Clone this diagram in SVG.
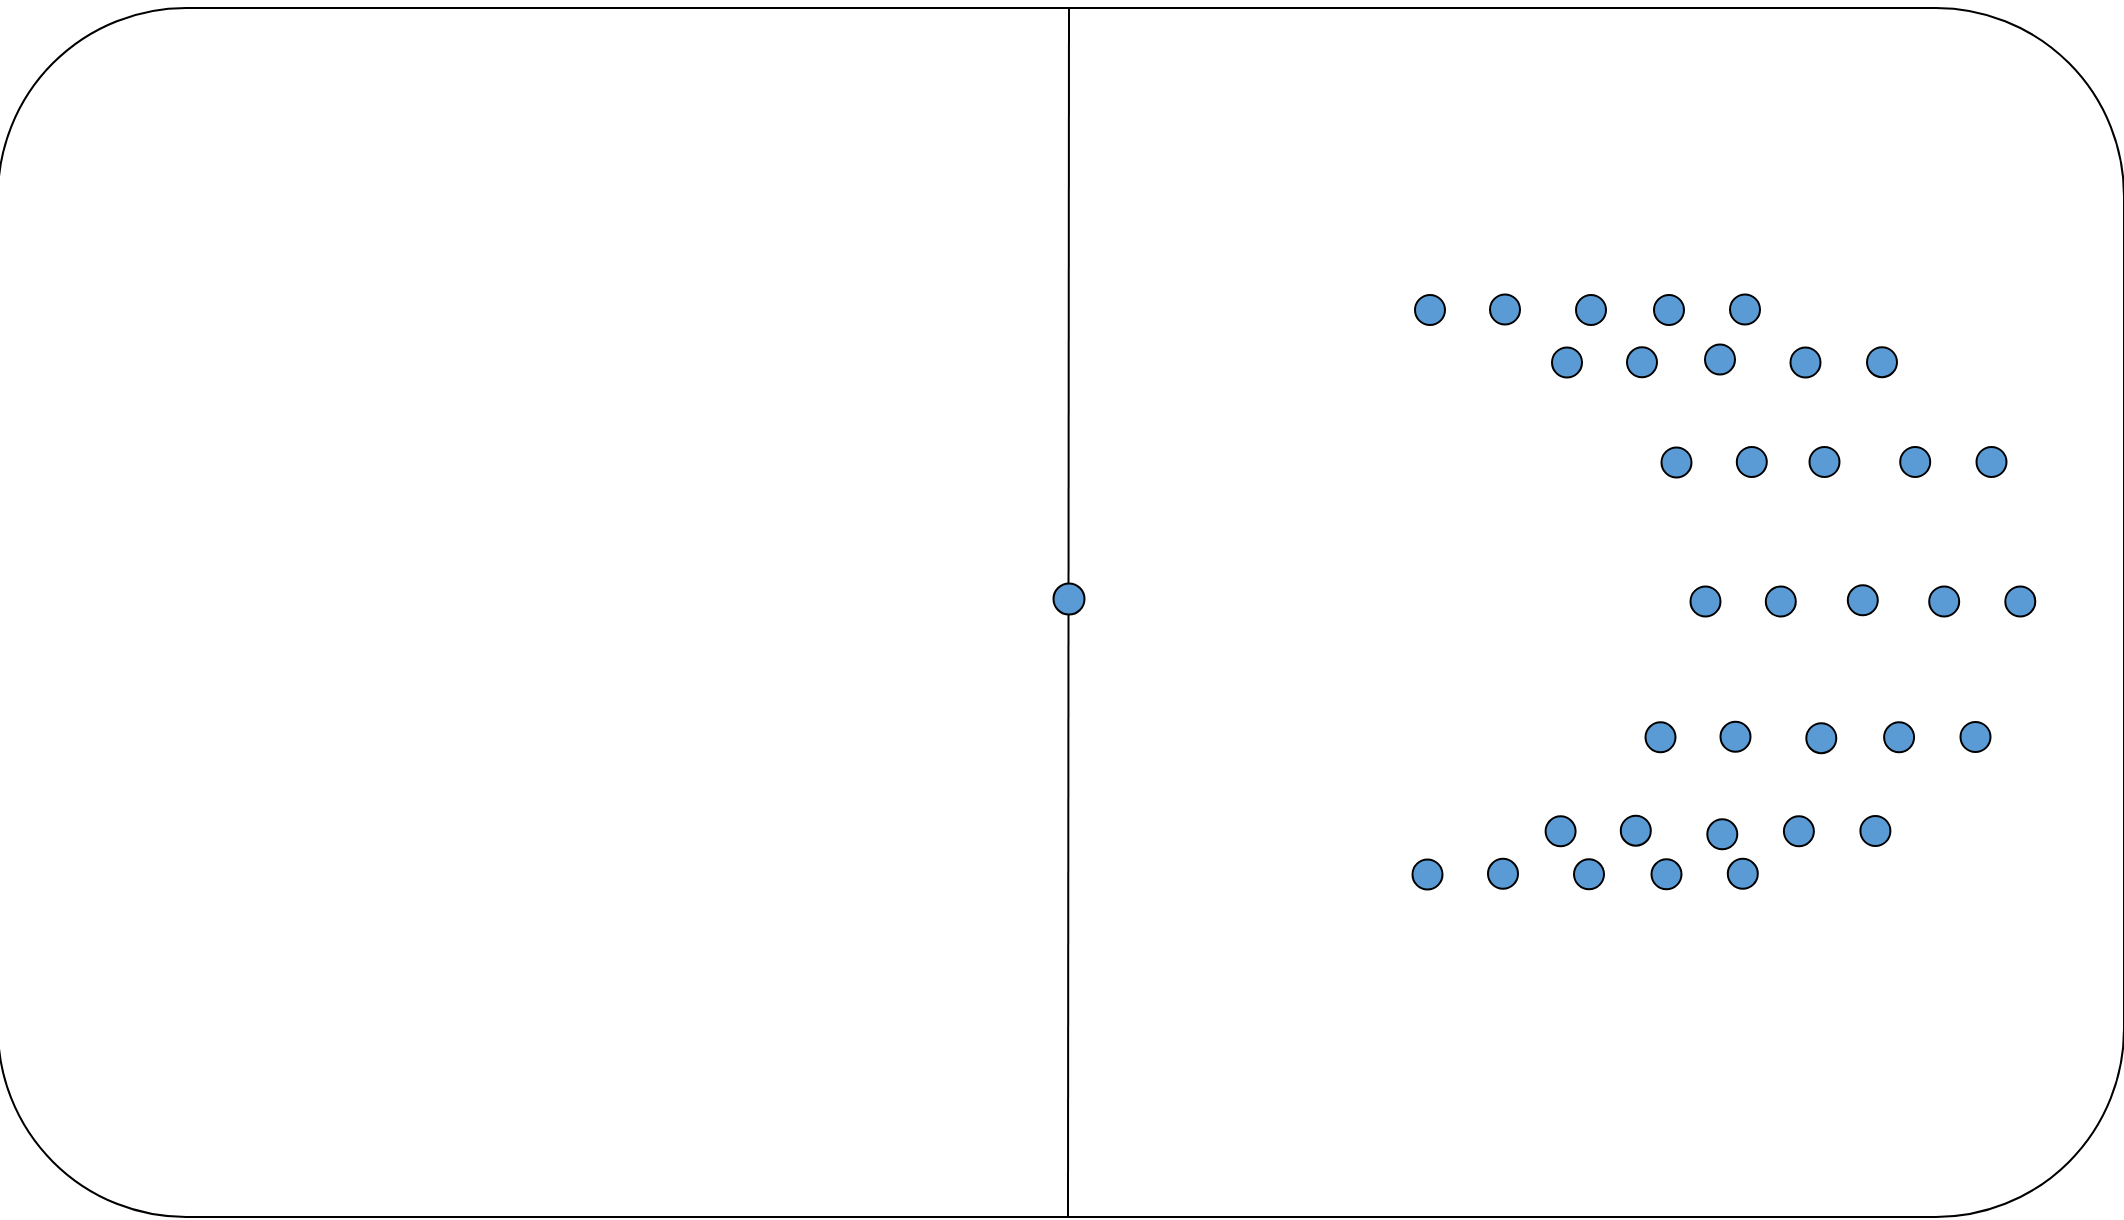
<svg xmlns="http://www.w3.org/2000/svg" width="2124" height="1220" viewBox="0 0 2124 1220">
<style>
.n{fill:#5B9BD5;stroke:#000;stroke-width:2}
.b{fill:#fff;stroke:#000;stroke-width:2}
.l{stroke:#000;stroke-width:2;fill:none}
</style>
<rect width="2124" height="1220" fill="#fff"/>
<rect id="boundary" class="b" x="-2" y="8" width="2126" height="1209" rx="188" ry="188"/>
<g id="connectors">
<line class="l" x1="1069" y1="8" x2="1068" y2="1217"/>
</g>
<g id="center"><circle class="n" cx="1069" cy="599" r="15.5"/></g>
<g id="rowA">
<circle class="n" cx="1430" cy="310" r="15"/>
<circle class="n" cx="1505" cy="309.5" r="15"/>
<circle class="n" cx="1591" cy="310" r="15"/>
<circle class="n" cx="1669" cy="310" r="15"/>
<circle class="n" cx="1745" cy="309.5" r="15"/>
</g>
<g id="rowB">
<circle class="n" cx="1567" cy="362.5" r="15"/>
<circle class="n" cx="1642" cy="362.3" r="15"/>
<circle class="n" cx="1720" cy="359.5" r="15"/>
<circle class="n" cx="1805.5" cy="362.5" r="15"/>
<circle class="n" cx="1882" cy="362.2" r="15"/>
</g>
<g id="rowC">
<circle class="n" cx="1676.5" cy="462.5" r="15"/>
<circle class="n" cx="1751.8" cy="462" r="15"/>
<circle class="n" cx="1824.5" cy="462" r="15"/>
<circle class="n" cx="1915.2" cy="462" r="15"/>
<circle class="n" cx="1991.5" cy="462" r="15"/>
</g>
<g id="rowD">
<circle class="n" cx="1705.5" cy="601.5" r="15"/>
<circle class="n" cx="1780.8" cy="601.5" r="15"/>
<circle class="n" cx="1862.8" cy="600.3" r="15"/>
<circle class="n" cx="1944.2" cy="601.5" r="15"/>
<circle class="n" cx="2020.3" cy="601.5" r="15"/>
</g>
<g id="rowE">
<circle class="n" cx="1660.5" cy="737.3" r="15"/>
<circle class="n" cx="1735.5" cy="736.8" r="15"/>
<circle class="n" cx="1821.3" cy="738.2" r="15"/>
<circle class="n" cx="1899.1" cy="737.3" r="15"/>
<circle class="n" cx="1975.5" cy="737" r="15"/>
</g>
<g id="rowF">
<circle class="n" cx="1560.6" cy="831.3" r="15"/>
<circle class="n" cx="1635.8" cy="830.7" r="15"/>
<circle class="n" cx="1722.3" cy="834.3" r="15"/>
<circle class="n" cx="1798.9" cy="831.3" r="15"/>
<circle class="n" cx="1875.4" cy="831" r="15"/>
</g>
<g id="rowG">
<circle class="n" cx="1427.5" cy="874.5" r="15"/>
<circle class="n" cx="1503" cy="873.8" r="15"/>
<circle class="n" cx="1589" cy="874.3" r="15"/>
<circle class="n" cx="1666.5" cy="874.3" r="15"/>
<circle class="n" cx="1742.8" cy="873.8" r="15"/>
</g>
</svg>
